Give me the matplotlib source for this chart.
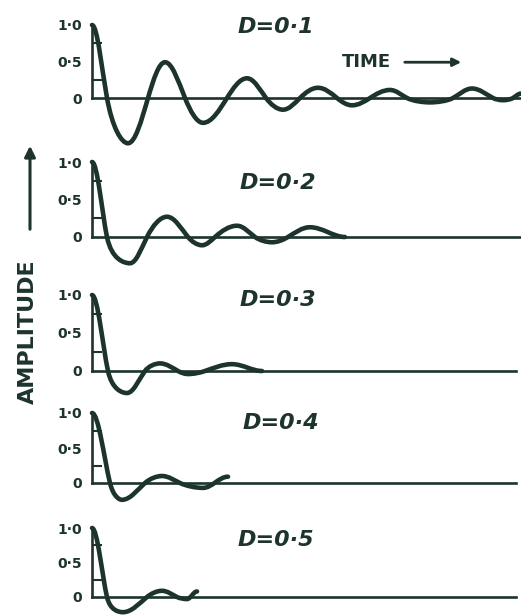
import matplotlib.pyplot as plt
import numpy as np
from matplotlib.path import Path
from matplotlib.patches import PathPatch

# damping ratio of each trace, top to bottom
damping = ["0·1", "0·2", "0·3", "0·4", "0·5"]

# key points of each trace: peaks, troughs and zero crossings
time_01 = [0, 15, 36, 56, 73, 93, 111, 135, 155, 174, 191, 208, 226,
           245, 260, 278, 298, 315, 338, 361, 380, 401, 411, 421, 429]
amp_01 = [1.0, 0, -0.62, 0, 0.49, 0, -0.34, 0, 0.27, 0, -0.16, 0, 0.14,
          0, -0.10, 0, 0.11, 0, -0.06, 0, 0.13, 0, -0.03, 0, 0.06]

time_02 = [0, 15, 38, 55, 75, 96, 110, 123, 145, 163, 180, 196, 218, 253]
amp_02 = [1.0, 0, -0.35, 0, 0.27, 0, -0.11, 0, 0.15, 0, -0.07, 0, 0.13, 0]

time_03 = [0, 16, 35, 53, 68, 86, 96, 113, 140, 170]
amp_03 = [1.0, 0, -0.29, 0, 0.10, 0, -0.04, 0, 0.09, 0]

time_04 = [0, 18, 30, 53, 70, 88, 111, 136]
amp_04 = [1.0, 0, -0.24, 0, 0.10, 0, -0.07, 0.09]

time_05 = [0, 15, 31, 55, 70, 85, 95, 105]
amp_05 = [1.0, 0, -0.22, 0, 0.09, 0, -0.03, 0.08]

times = [time_01, time_02, time_03, time_04, time_05]
amps = [amp_01, amp_02, amp_03, amp_04, amp_05]

# layout (pixels): zero line of each panel and pixels per unit amplitude
W, H = 521, 615
zero_px = [98, 237, 371, 483, 597]
scale_px = [73, 75, 76, 70, 69]
line_end = [429, 429, 424, 424, 424]
title_pos = [(184, 0.97), (186, 0.72), (186, 0.94), (189, 0.86), (184, 0.82)]
ink = "#1d332e"


def trace_path(t, a):
    # smooth curve through the key points: flat at peaks and troughs,
    # one common tangent at each zero crossing (bezier segments)
    n = len(t)
    slope = [0.0] * n
    for j in range(1, n - 1):
        if a[j] == 0:
            slope[j] = np.pi / 4 * (a[j + 1] / (t[j + 1] - t[j])
                                    - a[j - 1] / (t[j] - t[j - 1]))

    def steepness(c, other):
        # how much steeper the crossing tangent is than this half-wave itself
        own = np.pi / 2 * abs(a[other]) / abs(t[other] - t[c])
        return max(abs(slope[c]) / own, 1.0)

    def handle(j, other, dt):
        # horizontal reach of the control point leaving key point j
        if a[j] != 0:
            if a[other] == 0 and slope[other] != 0:
                return 0.36 * dt * steepness(other, j) ** -0.3
            return 0.36 * dt
        if slope[j] == 0:
            return dt / 3
        r = steepness(j, other)
        if r == 1.0:
            return min(dt / 3, 0.52 * abs(a[other]) / abs(slope[j]))
        drop = min(0.52 * abs(a[other]) * r ** 0.5, 0.9 * abs(a[other]))
        return drop / abs(slope[j])

    verts = [(t[0], a[0])]
    codes = [Path.MOVETO]
    for j in range(n - 1):
        dt = t[j + 1] - t[j]
        h0 = handle(j, j + 1, dt)
        h1 = handle(j + 1, j, dt)
        verts += [(t[j] + h0, a[j] + slope[j] * h0),
                  (t[j + 1] - h1, a[j + 1] - slope[j + 1] * h1),
                  (t[j + 1], a[j + 1])]
        codes += [Path.CURVE4] * 3
    return Path(verts, codes)


fig = plt.figure(figsize=(W / 100, H / 100), dpi=100)
lo, hi = -0.8, 1.15
axes = []
for i in range(5):
    z, s = zero_px[i], scale_px[i]
    bottom_px = z - lo * s
    ax = fig.add_axes([92 / W, 1 - bottom_px / H, 429 / W, (hi - lo) * s / H])
    ax.patch.set_alpha(0)
    ax.set_xlim(0, 429)
    ax.set_ylim(lo, hi)
    for side in ["top", "right"]:
        ax.spines[side].set_visible(False)
    ax.spines["bottom"].set_position(("data", 0))
    ax.spines["bottom"].set_bounds(0, line_end[i])
    ax.spines["left"].set_bounds(0, 1.0)
    for side in ["bottom", "left"]:
        ax.spines[side].set_linewidth(1.9)
        ax.spines[side].set_color(ink)
    ax.set_xticks([])
    ax.set_yticks([0, 0.5, 1.0], ["0", "0·5", "1·0"])
    ax.set_yticks([0.25, 0.5, 0.75], minor=True)
    ax.tick_params(axis="y", which="major", length=0, pad=7,
                   labelsize=10, labelcolor=ink)
    ax.tick_params(axis="y", which="minor", direction="in", length=7,
                   width=1.5, color=ink)
    for lab in ax.get_yticklabels():
        lab.set_fontweight("bold")

    ax.add_patch(PathPatch(trace_path(times[i], amps[i]), fill=False,
                           lw=3.3, edgecolor=ink, capstyle="round",
                           joinstyle="round", clip_on=False))
    tx, ty = title_pos[i]
    ax.text(tx, ty, f"D={damping[i]}", ha="center", va="center",
            fontsize=16, fontweight="bold", style="italic", color=ink)
    axes.append(ax)

# time arrow on the top panel
axes[0].text(274, 0.49, "TIME", ha="center", va="center", fontsize=13,
             fontweight="bold", color=ink)
axes[0].annotate("", xy=(372, 0.49), xytext=(310, 0.49),
                 arrowprops=dict(arrowstyle="-|>", lw=2, color=ink,
                                 mutation_scale=12))

# amplitude label with upward arrow
fig.text(28 / W, 1 - 332 / H, "AMPLITUDE", rotation=90, ha="center",
         va="center", fontsize=16, fontweight="bold", color=ink)
axes[0].annotate("", xy=(30, H - 143), xytext=(30, H - 232),
                 xycoords="figure pixels", textcoords="figure pixels",
                 arrowprops=dict(arrowstyle="-|>", lw=2.2, color=ink,
                                 mutation_scale=16),
                 annotation_clip=False)

fig.savefig("out.png", dpi=100)
